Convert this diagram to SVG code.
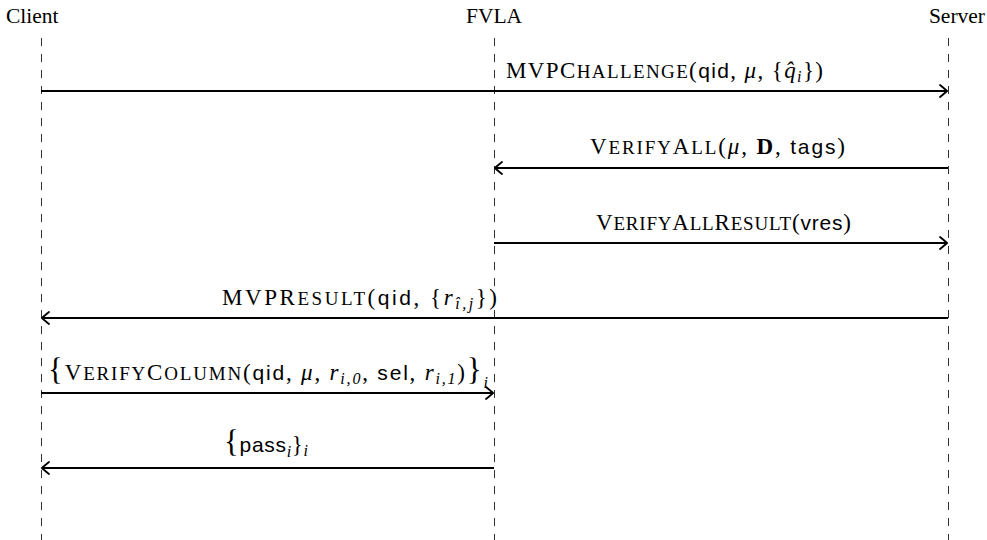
<svg xmlns="http://www.w3.org/2000/svg" width="987" height="540" viewBox="0 0 987 540">
  <defs>
    <marker id="to" viewBox="-9 -7 11 14" markerWidth="11" markerHeight="14" refX="0" refY="0" orient="auto" markerUnits="userSpaceOnUse">
      <path d="M-7,-6 Q-1.5,-1.5 0,0 Q-1.5,1.5 -7,6" fill="none" stroke="#000" stroke-width="1.8" stroke-linecap="round"/>
    </marker>
    <style>
      .rm { font-family: "Liberation Serif", "DejaVu Serif", serif; font-size: 23px; fill: #000; }
      .hd { font-family: "Liberation Serif", "DejaVu Serif", serif; font-size: 21.5px; fill: #000; }
      .sc { font-size: 19px; }
      .sf { font-family: "Liberation Sans", "DejaVu Sans", sans-serif; font-size: 21px; }
      .mi { font-style: italic; }
      .bf { font-weight: bold; }
      .sub { font-size: 16px; font-style: italic; }
      .big { font-size: 31px; }
      .life { stroke: #333; stroke-width: 1; stroke-dasharray: 8 8; fill: none; }
      .msg { stroke: #000; stroke-width: 1.8; fill: none; marker-end: url(#to); }
    </style>
  </defs>

  <!-- participants with their lifelines -->
  <g id="client">
    <text class="hd" x="6" y="23">Client</text>
    <line class="life" x1="41.5" y1="38" x2="41.5" y2="540"/>
  </g>
  <g id="fvla">
    <text class="hd" x="494" y="23" text-anchor="middle">FVLA</text>
    <line class="life" x1="494.5" y1="38" x2="494.5" y2="540"/>
  </g>
  <g id="server">
    <text class="hd" x="985" y="23" text-anchor="end">Server</text>
    <line class="life" x1="948.5" y1="38" x2="948.5" y2="540"/>
  </g>

  <!-- messages -->
  <g id="connectors">
    <line class="msg" x1="41" y1="91" x2="947" y2="91"/>
    <line class="msg" x1="948" y1="168" x2="495" y2="168"/>
    <line class="msg" x1="494" y1="243" x2="947" y2="243"/>
    <line class="msg" x1="948" y1="318" x2="42" y2="318"/>
    <line class="msg" x1="41" y1="393" x2="493" y2="393"/>
    <line class="msg" x1="494" y1="468" x2="42" y2="468"/>
  </g>

  <!-- message labels -->
  <g id="labels">
    <text class="rm" x="506" y="78" textLength="317">MVPC<tspan class="sc">HALLENGE</tspan>(<tspan class="sf">qid</tspan>, <tspan class="mi">μ</tspan>, {<tspan class="mi">q̂</tspan><tspan class="sub" dy="4">i</tspan><tspan dy="-4">})</tspan></text>

    <text class="rm" x="590" y="154" textLength="255">V<tspan class="sc">ERIFY</tspan>A<tspan class="sc">LL</tspan>(<tspan class="mi">μ</tspan>, <tspan class="bf">D</tspan>, <tspan class="sf">tags</tspan>)</text>

    <text class="rm" x="596" y="230" textLength="255">V<tspan class="sc">ERIFY</tspan>A<tspan class="sc">LL</tspan>R<tspan class="sc">ESULT</tspan>(<tspan class="sf">vres</tspan>)</text>

    <text class="rm" x="222" y="305" textLength="275">MVPR<tspan class="sc">ESULT</tspan>(<tspan class="sf">qid</tspan>, {<tspan class="mi">r</tspan><tspan class="sub" dy="4">î,j</tspan><tspan dy="-4">})</tspan></text>

    <text class="rm" x="48" y="380" textLength="440"><tspan class="big">{</tspan>V<tspan class="sc">ERIFY</tspan>C<tspan class="sc">OLUMN</tspan>(<tspan class="sf">qid</tspan>, <tspan class="mi">μ</tspan>, <tspan class="mi">r</tspan><tspan class="sub" dy="4">i,0</tspan><tspan dy="-4">, </tspan><tspan class="sf">sel</tspan>, <tspan class="mi">r</tspan><tspan class="sub" dy="4">i,1</tspan><tspan dy="-4">)</tspan><tspan class="big">}</tspan><tspan class="sub" dy="8">i</tspan></text>

    <text class="rm" x="224" y="452" textLength="84"><tspan class="big">{</tspan><tspan class="sf">pass</tspan><tspan class="sub" dy="5">i</tspan><tspan dy="-5">}</tspan><tspan class="sub" dy="4">i</tspan></text>
  </g>
</svg>
